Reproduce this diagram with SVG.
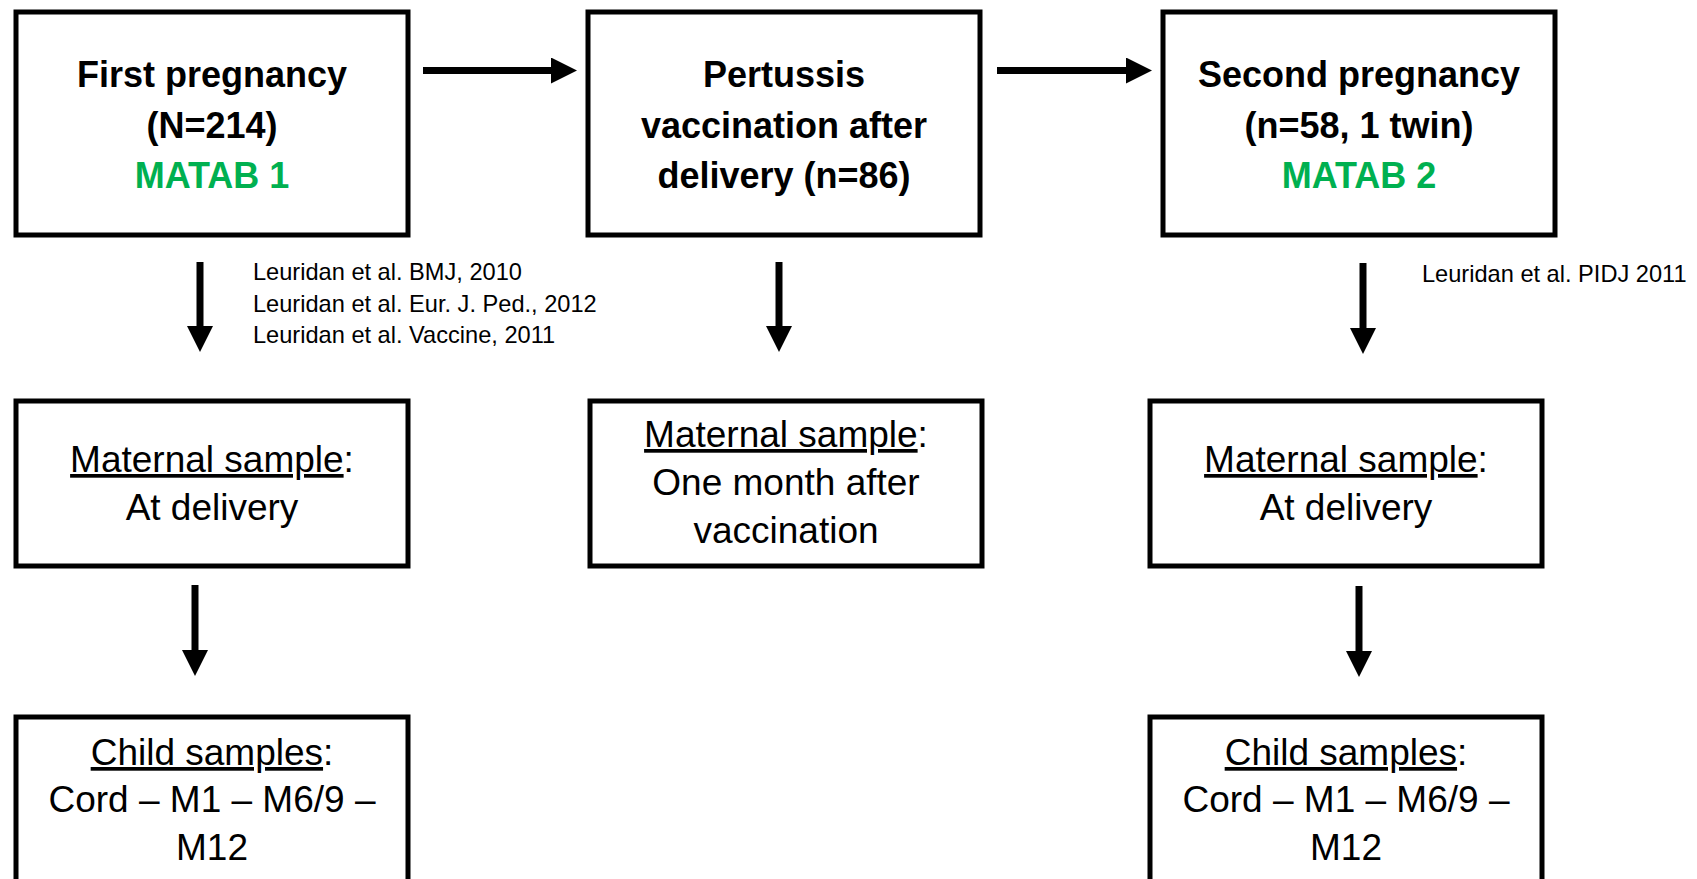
<svg xmlns="http://www.w3.org/2000/svg" width="1697" height="879" viewBox="0 0 1697 879">
<defs>
<style>
.box{fill:#fff;stroke:#000;stroke-width:5}
.t{font-family:"Liberation Sans",Arial,sans-serif;text-anchor:middle;fill:#000}
.b{font-size:36px;font-weight:bold}
.r{font-size:37px}
.g{fill:#00B050}
.note{font-family:"Liberation Sans",Arial,sans-serif;font-size:23.6px;fill:#000}
.arr{stroke:#000;stroke-width:7;fill:none;marker-end:url(#ah)}
.u{text-decoration:underline}
</style>
<marker id="ah" markerUnits="userSpaceOnUse" markerWidth="26" markerHeight="26" refX="0" refY="12" orient="auto" viewBox="0 0 24 24">
<path d="M0,0 L24,12 L0,24 z" fill="#000"/>
</marker>
</defs>
<rect width="1697" height="879" fill="#fff"/>
<g id="connectors">
<line class="arr" x1="423" y1="70.5" x2="551" y2="70.5"/>
<line class="arr" x1="997" y1="70.5" x2="1126" y2="70.5"/>
<line class="arr" x1="200" y1="262" x2="200" y2="326"/>
<line class="arr" x1="779" y1="262" x2="779" y2="326"/>
<line class="arr" x1="1363" y1="263" x2="1363" y2="328"/>
<line class="arr" x1="195" y1="585" x2="195" y2="650"/>
<line class="arr" x1="1359" y1="586" x2="1359" y2="651"/>
</g>
<g id="first-pregnancy">
<rect class="box" x="16" y="12" width="392" height="223"/>
<text class="t b" x="212" y="87">First pregnancy</text>
<text class="t b" x="212" y="138">(N=214)</text>
<text class="t b g" x="212" y="188">MATAB 1</text>
</g>
<g id="pertussis">
<rect class="box" x="588" y="12" width="392" height="223"/>
<text class="t b" x="784" y="87">Pertussis</text>
<text class="t b" x="784" y="137.5">vaccination after</text>
<text class="t b" x="784" y="188">delivery (n=86)</text>
</g>
<g id="second-pregnancy">
<rect class="box" x="1163" y="12" width="392" height="223"/>
<text class="t b" x="1359" y="87">Second pregnancy</text>
<text class="t b" x="1359" y="138">(n=58, 1 twin)</text>
<text class="t b g" x="1359" y="188">MATAB 2</text>
</g>
<g id="refs-1">
<text class="note" x="253" y="280">Leuridan et al. BMJ, 2010</text>
<text class="note" x="253" y="312">Leuridan et al. Eur. J. Ped., 2012</text>
<text class="note" x="253" y="343">Leuridan et al. Vaccine, 2011</text>
</g>
<g id="refs-2">
<text class="note" x="1422" y="282">Leuridan et al. PIDJ 2011</text>
</g>
<g id="maternal-1">
<rect class="box" x="16" y="401" width="392" height="165"/>
<text class="t r" x="212" y="472"><tspan class="u">Maternal sample</tspan>:</text>
<text class="t r" x="212" y="520">At delivery</text>
</g>
<g id="maternal-2">
<rect class="box" x="590" y="401" width="392" height="165"/>
<text class="t r" x="786" y="447"><tspan class="u">Maternal sample</tspan>:</text>
<text class="t r" x="786" y="495">One month after</text>
<text class="t r" x="786" y="543">vaccination</text>
</g>
<g id="maternal-3">
<rect class="box" x="1150" y="401" width="392" height="165"/>
<text class="t r" x="1346" y="472"><tspan class="u">Maternal sample</tspan>:</text>
<text class="t r" x="1346" y="520">At delivery</text>
</g>
<g id="child-1">
<rect class="box" x="16" y="717" width="392" height="200"/>
<text class="t r" x="212" y="765"><tspan class="u">Child samples</tspan>:</text>
<text class="t r" x="212" y="812">Cord – M1 – M6/9 –</text>
<text class="t r" x="212" y="860">M12</text>
</g>
<g id="child-2">
<rect class="box" x="1150" y="717" width="392" height="200"/>
<text class="t r" x="1346" y="765"><tspan class="u">Child samples</tspan>:</text>
<text class="t r" x="1346" y="812">Cord – M1 – M6/9 –</text>
<text class="t r" x="1346" y="860">M12</text>
</g>
</svg>
